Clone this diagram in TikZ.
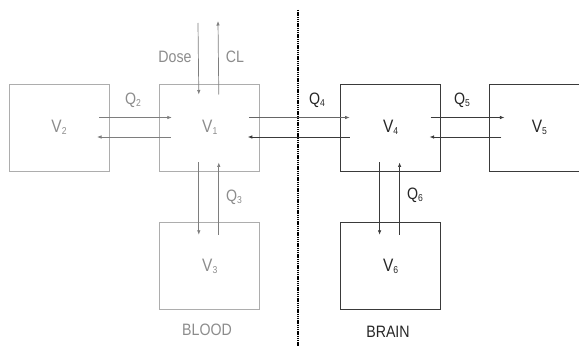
\documentclass[tikz,border=0pt]{standalone}
\usepackage{fontspec}
\setmainfont[FakeStretch=0.86]{Liberation Sans}
\usepackage{xcolor}
\usepackage{tikz}
\usetikzlibrary{positioning,arrows.meta}
\definecolor{bloodgray}{HTML}{ADADAD}
\definecolor{bloodtext}{HTML}{8C8C8C}
\definecolor{bloodline}{HTML}{7E7E7E}
\definecolor{braindark}{HTML}{3A3A3A}
\newcommand{\lowsub}[1]{\raisebox{-2.5pt}{\fontsize{10}{12}\selectfont #1}}

\begin{document}
\begin{tikzpicture}[x=1pt, y=1pt,
    node distance=50pt,
    box/.style={draw, minimum width=100pt, minimum height=87pt, line width=0.8pt, inner sep=0pt, font=\fontsize{18}{20}\selectfont},
    blood/.style={box, draw=bloodgray, text=bloodtext},
    brain/.style={box, draw=braindark, text=black!85},
    lbl/.style={font=\fontsize{16.5}{18}\selectfont},
    arrow/.style={-{Latex[length=4.5pt,width=3.5pt]}, line width=0.7pt}
]
\useasboundingbox (0,0) rectangle (579,346);

\node[blood] (vtwo) at (59,218.5) {V\lowsub{2}};
\node[blood, right=50pt of vtwo] (vone) {V\lowsub{1}};
\node[blood, below=51pt of vone] (vthree) {V\lowsub{3}};
\node[brain, right=80pt of vone] (vfour) {V\lowsub{4}};
\node[brain, right=48pt of vfour] (vfive) {V\lowsub{5}};
\node[brain, below=51pt of vfour] (vsix) {V\lowsub{6}};

\coordinate (dosein) at (198,323);
\coordinate (clout) at (218,325);
\coordinate (divtop) at (298,336);
\coordinate (divbot) at (298,0);

\node[lbl, text=bloodtext] (dose) at (175,289) {Dose};
\node[lbl, text=bloodtext] (cl) at (235,289) {CL};
\node[lbl, text=bloodtext] (qtwo) at (133,246) {Q\lowsub{2}};
\node[lbl, text=bloodtext] (qthree) at (234,149) {Q\lowsub{3}};
\node[lbl, text=black!85] (qfour) at (317,246) {Q\lowsub{4}};
\node[lbl, text=black!85] (qfive) at (462,246) {Q\lowsub{5}};
\node[lbl, text=black!85] (qsix) at (415,151) {Q\lowsub{6}};
\node[lbl, text=bloodtext] (blood) at (207,16) {BLOOD};
\node[lbl, text=black!85] (brain) at (388,14) {BRAIN};

\draw[line width=2.2pt, dash pattern=on 1.4pt off 0.8pt, black] (divtop) -- (divbot);

\draw[arrow, bloodline] (dosein) -- ([shift={(-11pt,33pt)}]vone.center);
\draw[arrow, bloodline] ([shift={(9pt,33pt)}]vone.center) -- (clout);

\draw[arrow, bloodline] ([shift={(40pt,10pt)}]vtwo.center) -- ([shift={(-38pt,10pt)}]vone.center);
\draw[arrow, bloodline] ([shift={(-39pt,-9.5pt)}]vone.center) -- ([shift={(38pt,-9.5pt)}]vtwo.center);
\draw[arrow, bloodline] ([shift={(-11pt,-35pt)}]vone.center) -- ([shift={(-11pt,31.5pt)}]vthree.center);
\draw[arrow, bloodline] ([shift={(9pt,31.5pt)}]vthree.center) -- ([shift={(9pt,-35pt)}]vone.center);

\draw[arrow, black!60] ([shift={(39pt,10pt)}]vone.center) -- ([shift={(-41pt,10pt)}]vfour.center);
\draw[arrow, braindark] ([shift={(-41pt,-9.5pt)}]vfour.center) -- ([shift={(38pt,-9.5pt)}]vone.center);
\draw[arrow, braindark] ([shift={(40pt,10pt)}]vfour.center) -- ([shift={(-35pt,10pt)}]vfive.center);
\draw[arrow, braindark] ([shift={(-38pt,-9.5pt)}]vfive.center) -- ([shift={(39pt,-9.5pt)}]vfour.center);
\draw[arrow, braindark] ([shift={(-11pt,-35pt)}]vfour.center) -- ([shift={(-11pt,31.5pt)}]vsix.center);
\draw[arrow, braindark] ([shift={(9pt,31.5pt)}]vsix.center) -- ([shift={(9pt,-35pt)}]vfour.center);

\end{tikzpicture}
\end{document}
